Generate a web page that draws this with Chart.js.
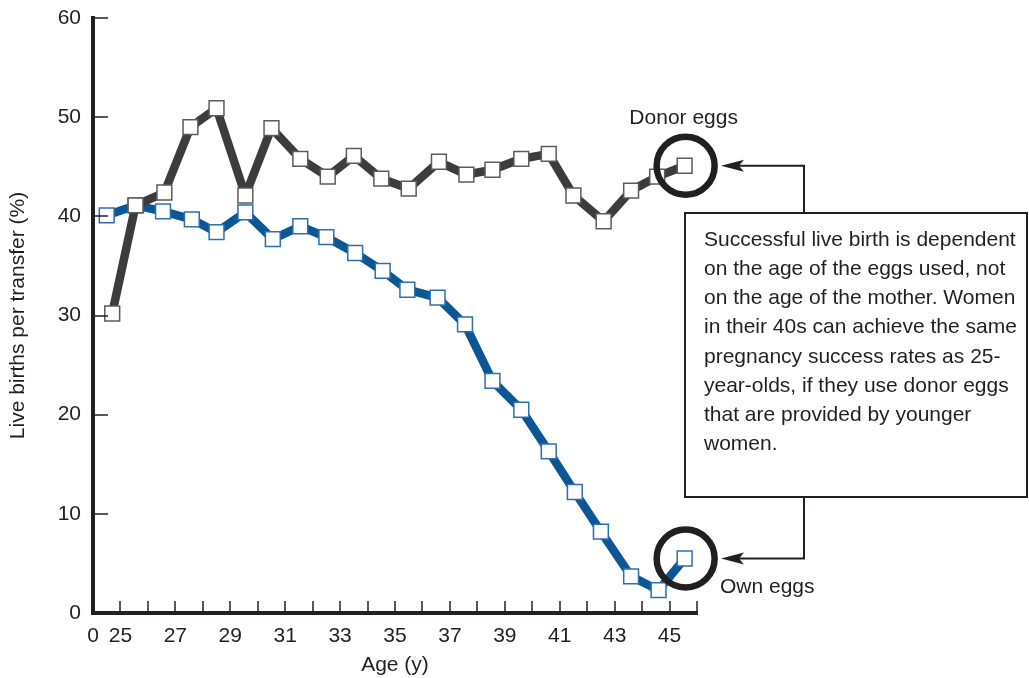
<!DOCTYPE html>
<html>
<head>
<meta charset="utf-8">
<script src="https://cdn.jsdelivr.net/npm/chart.js@4.4.0/dist/chart.umd.min.js"></script>
<style>
  body { margin: 0; background: #fff; }
  canvas { display: block; }
</style>
</head>
<body>
<canvas id="chart" width="1029" height="678"></canvas>
<script>
// ages where each point sits
var donorAges = [24.7, 25.55, 26.6, 27.55, 28.5, 29.55, 30.5, 31.55, 32.55, 33.5, 34.5, 35.5, 36.6, 37.6, 38.55, 39.6, 40.6, 41.5, 42.6, 43.6, 44.55, 45.55];
var ownAges = [24.5, 25.55, 26.55, 27.6, 28.5, 29.55, 30.55, 31.55, 32.5, 33.55, 34.55, 35.45, 36.55, 37.55, 38.55, 39.6, 40.6, 41.55, 42.5, 43.6, 44.6, 45.55];

var donorRates = [30.2, 41.1, 42.4, 49.0, 50.9, 42.1, 48.9, 45.8, 44.0, 46.1, 43.8, 42.8, 45.5, 44.2, 44.7, 45.8, 46.3, 42.1, 39.5, 42.6, 44.0, 45.1];
var ownRates = [40.1, 41.1, 40.5, 39.7, 38.4, 40.4, 37.7, 39.0, 37.9, 36.3, 34.5, 32.6, 31.8, 29.1, 23.4, 20.5, 16.3, 12.2, 8.2, 3.7, 2.3, 5.5];

var xTickValues = [24, 25, 27, 29, 31, 33, 35, 37, 39, 41, 43, 45];
var xTickLabels = ['0', '25', '27', '29', '31', '33', '35', '37', '39', '41', '43', '45'];
var xTickMarks = [25, 26, 27, 28, 29, 30, 31, 32, 33, 34, 35, 36, 37, 38, 39, 40, 41, 42, 43, 44, 45, 46];
var yTickMarks = [10, 20, 30, 40, 50, 60];

var noteText = [
    'Successful live birth is dependent',
    'on the age of the eggs used, not',
    'on the age of the mother. Women',
    'in their 40s can achieve the same',
    'pregnancy success rates as 25-',
    'year-olds, if they use donor eggs',
    'that are provided by younger',
    'women.'
];

var ink = '#231f20';
var font = '"Liberation Sans", Arial, Helvetica, sans-serif';
var fontSize = 21;

function toPoints(xs, ys) {
    return ys.map(function (v, i) { return { x: xs[i], y: v }; });
}

function drawArrow(ctx, fromX, fromY, turnX, tipX, tipY) {
    ctx.beginPath();
    ctx.moveTo(fromX, fromY);
    ctx.lineTo(turnX, tipY);
    ctx.lineTo(tipX + 14, tipY);
    ctx.stroke();
    ctx.beginPath();
    ctx.moveTo(tipX, tipY);
    ctx.lineTo(tipX + 23, tipY - 6);
    ctx.lineTo(tipX + 18, tipY);
    ctx.lineTo(tipX + 23, tipY + 6);
    ctx.closePath();
    ctx.fill();
}

var notes = {
    id: 'notes',
    afterDraw: function (chart) {
        var ctx = chart.ctx;
        var xs = chart.scales.x, ys = chart.scales.y, area = chart.chartArea;
        ctx.save();
        ctx.strokeStyle = ink;
        ctx.fillStyle = ink;

        // inward tick marks
        ctx.lineWidth = 1.5;
        xTickMarks.forEach(function (v) {
            var px = Math.round(xs.getPixelForValue(v));
            ctx.beginPath();
            ctx.moveTo(px, area.bottom);
            ctx.lineTo(px, area.bottom - 12);
            ctx.stroke();
        });
        yTickMarks.forEach(function (v) {
            var py = Math.round(ys.getPixelForValue(v));
            ctx.beginPath();
            ctx.moveTo(area.left, py);
            ctx.lineTo(area.left + 15, py);
            ctx.stroke();
        });

        // rings round the last points
        var dMeta = chart.getDatasetMeta(0).data;
        var oMeta = chart.getDatasetMeta(1).data;
        var dEnd = dMeta[dMeta.length - 1];
        var oEnd = oMeta[oMeta.length - 1];
        ctx.lineWidth = 6.5;
        [dEnd, oEnd].forEach(function (p) {
            ctx.beginPath();
            ctx.arc(p.x + 1, p.y, 29, 0, Math.PI * 2);
            ctx.stroke();
        });

        ctx.font = fontSize + 'px ' + font;
        ctx.textBaseline = 'middle';
        ctx.textAlign = 'center';
        ctx.fillText('Donor eggs', dEnd.x - 1, dEnd.y - 48);
        ctx.textAlign = 'left';
        ctx.fillText('Own eggs', 720, oEnd.y + 29);

        // text box
        ctx.lineWidth = 2;
        ctx.strokeRect(685, 213, 342, 284);
        noteText.forEach(function (line, i) {
            ctx.fillText(line, 704, 240 + i * 29.2);
        });

        // arrows from the box to the rings
        drawArrow(ctx, 804, 213, 804, 721, dEnd.y);
        drawArrow(ctx, 804, 497, 804, 721, oEnd.y);

        ctx.restore();
    }
};

new Chart(document.getElementById('chart'), {
    type: 'line',
    data: {
        datasets: [{
            label: 'Donor eggs',
            data: toPoints(donorAges, donorRates),
            borderColor: '#3c3c3c',
            borderWidth: 8.5,
            borderJoinStyle: 'round',
            pointStyle: 'rect',
            pointRadius: 10.5,
            pointBorderWidth: 1.5,
            pointBorderColor: '#5c5c5c',
            pointBackgroundColor: '#fff',
            tension: 0,
            clip: false
        }, {
            label: 'Own eggs',
            data: toPoints(ownAges, ownRates),
            borderColor: '#0b5694',
            borderWidth: 8.5,
            borderJoinStyle: 'round',
            pointStyle: 'rect',
            pointRadius: 10.5,
            pointBorderWidth: 1.5,
            pointBorderColor: '#2d6fae',
            pointBackgroundColor: '#fff',
            tension: 0,
            clip: false
        }]
    },
    options: {
        responsive: false,
        animation: false,
        devicePixelRatio: 1,
        layout: { padding: { top: 18, right: 332, left: 0, bottom: 0 } },
        plugins: {
            legend: { display: false },
            tooltip: { enabled: false }
        },
        scales: {
            x: {
                type: 'linear',
                min: 24,
                max: 46,
                afterFit: function (scale) { scale.height = 65; },
                afterBuildTicks: function (scale) {
                    scale.ticks = xTickValues.map(function (v) { return { value: v }; });
                },
                ticks: {
                    autoSkip: false,
                    maxRotation: 0,
                    padding: 11,
                    color: ink,
                    font: { family: font, size: fontSize },
                    callback: function (v) {
                        var i = xTickValues.indexOf(v);
                        return i < 0 ? '' : xTickLabels[i];
                    }
                },
                grid: { display: false, drawTicks: false },
                border: { display: true, color: ink, width: 4 },
                title: {
                    display: true,
                    text: 'Age (y)',
                    color: ink,
                    font: { family: font, size: fontSize },
                    padding: { top: 0, bottom: 0 }
                }
            },
            y: {
                min: 0,
                max: 60,
                afterFit: function (scale) { scale.width = 93; },
                ticks: {
                    stepSize: 10,
                    padding: 3,
                    color: ink,
                    font: { family: font, size: fontSize }
                },
                grid: { display: false, drawTicks: true, tickLength: 9 },
                border: { display: true, color: ink, width: 4 },
                title: {
                    display: true,
                    text: 'Live births per transfer (%)',
                    color: ink,
                    font: { family: font, size: fontSize },
                    padding: { top: 6, bottom: 0 }
                }
            }
        }
    },
    plugins: [notes]
});
</script>
</body>
</html>
